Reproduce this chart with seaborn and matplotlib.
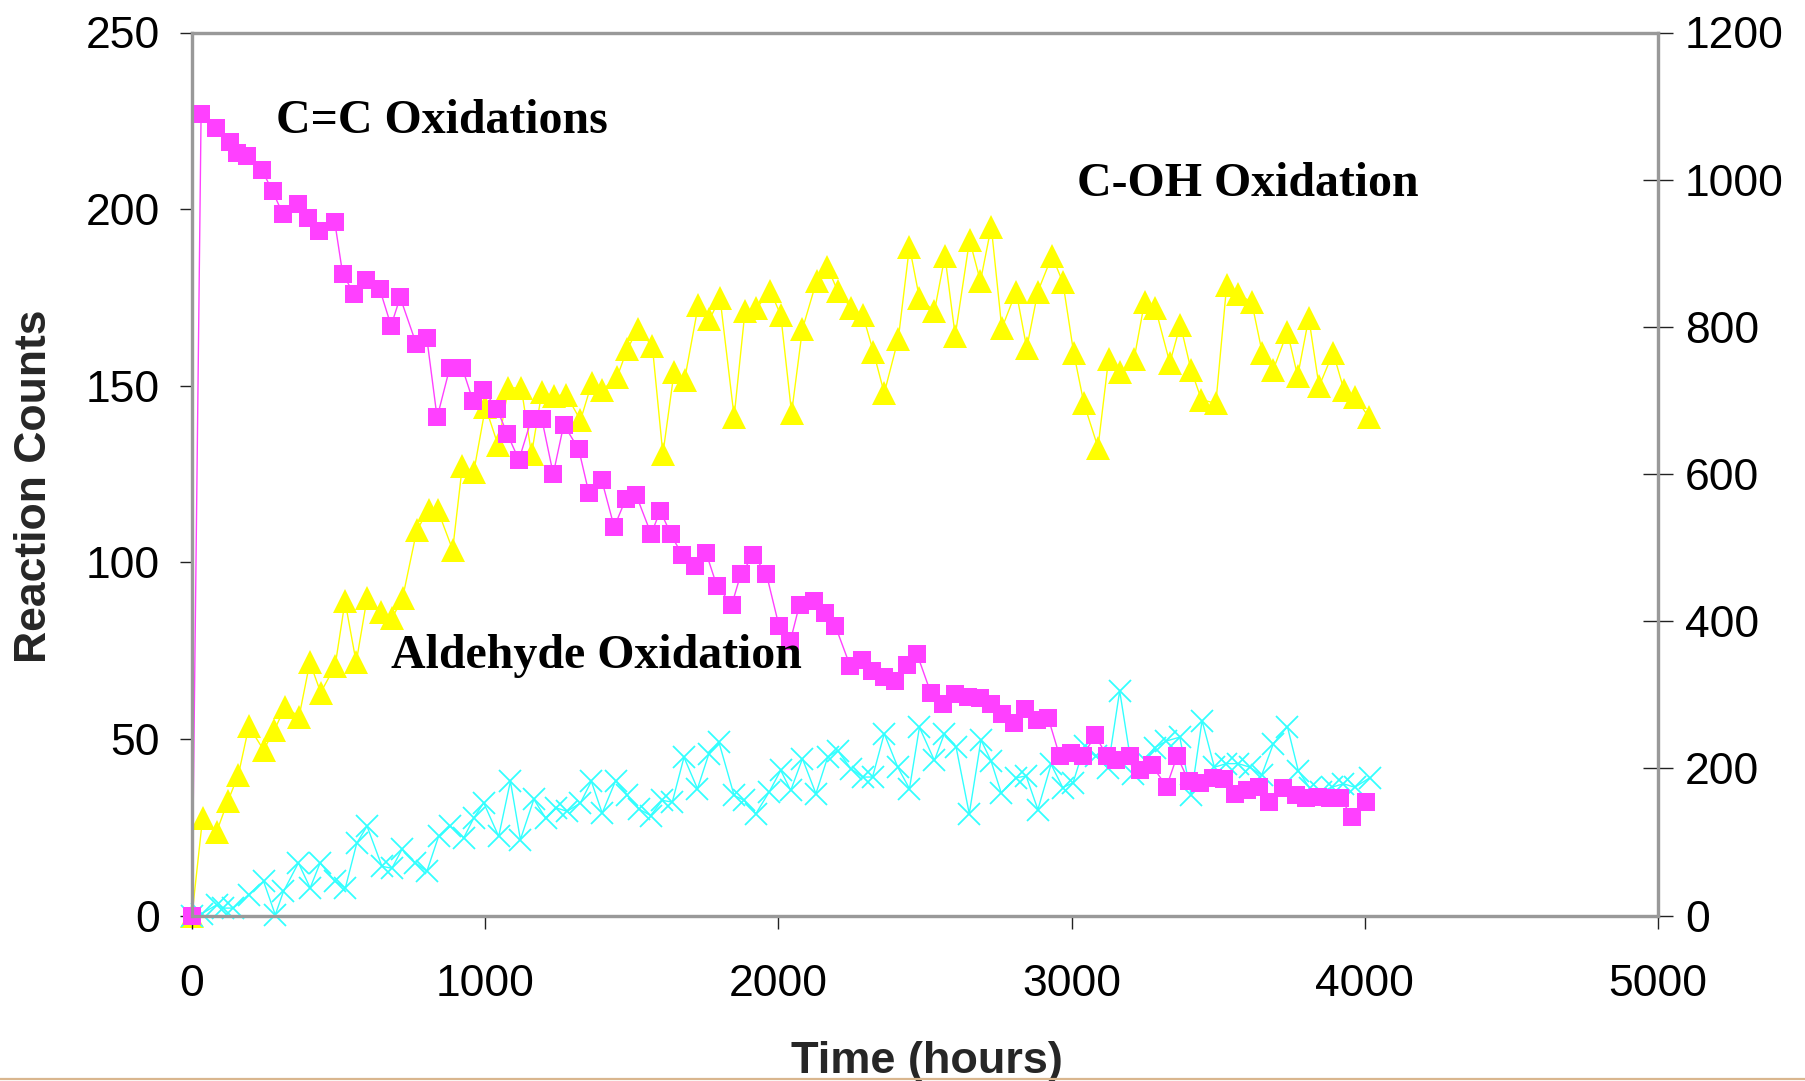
import matplotlib
matplotlib.use("Agg")
import matplotlib.pyplot as plt
from matplotlib.lines import Line2D
import seaborn as sns

# ---- data ----
cc_t = [0, 31, 82, 130, 153, 188, 239, 275, 310, 361, 396, 432, 487, 514, 553, 593, 640, 679, 710, 765,
        801, 836, 879, 922, 958, 993, 1040, 1075, 1115, 1158, 1193, 1232, 1268, 1319, 1354, 1397, 1440,
        1480, 1515, 1566, 1597, 1633, 1672, 1715, 1754, 1790, 1841, 1872, 1915, 1959, 2002, 2041, 2072,
        2120, 2159, 2194, 2245, 2284, 2320, 2359, 2398, 2437, 2473, 2520, 2563, 2602, 2645, 2689, 2724,
        2763, 2802, 2842, 2881, 2920, 2959, 2999, 3038, 3081, 3120, 3152, 3199, 3234, 3273, 3324, 3360,
        3399, 3438, 3481, 3520, 3556, 3599, 3638, 3674, 3721, 3764, 3799, 3839, 3882, 3917, 3956, 4004]
cc_v = [0, 227, 223, 219, 216, 215, 211, 205, 198.6, 201.5, 197.6, 193.7, 196.3, 181.6, 176, 180, 177.4,
        167, 175, 161.8, 163.4, 141, 155, 155, 145.8, 148.8, 143.5, 136.4, 129, 140.6, 140.6, 125, 139,
        132, 119.5, 123.4, 110, 118, 119, 108, 114.6, 108, 102, 99, 102.5, 93.4, 88, 96.7, 102, 96.7, 82,
        77.8, 88, 89, 85.6, 82, 70.6, 72.3, 69.3, 67.4, 66.4, 71, 74, 63, 60, 62.8, 61.8, 61.5, 60, 57,
        54.4, 58.6, 55.3, 56, 45.2, 45.9, 45.2, 51, 45.2, 44, 45.2, 41.3, 42.6, 36.5, 45.2, 38, 37.4, 39,
        38.7, 34.5, 35.5, 36.5, 32, 36, 34, 33.2, 33.5, 33.2, 33.2, 28, 32]

coh_t = [0, 36, 84, 122, 158, 194, 244, 281, 318, 365, 402, 439, 488, 522, 560, 597, 645, 682, 718, 767,
         807, 838, 889, 922, 961, 1001, 1044, 1079, 1123, 1158, 1193, 1236, 1276, 1325, 1363, 1399, 1450,
         1485, 1521, 1570, 1606, 1644, 1680, 1727, 1765, 1801, 1849, 1886, 1925, 1972, 2008, 2045, 2082,
         2130, 2167, 2202, 2249, 2288, 2324, 2361, 2409, 2447, 2481, 2532, 2568, 2603, 2652, 2689, 2726,
         2762, 2811, 2847, 2885, 2933, 2970, 3007, 3042, 3090, 3126, 3164, 3213, 3249, 3286, 3335, 3371,
         3407, 3443, 3492, 3529, 3566, 3614, 3650, 3688, 3736, 3771, 3809, 3844, 3892, 3929, 3966, 4014]
coh_v = [0, 132, 114, 155, 191, 257, 225, 252, 284, 270, 344, 303, 339, 427, 344, 431, 413, 404, 431, 524,
         551, 551, 497, 611, 603, 691, 639, 717, 717, 627, 711, 706, 708, 673, 723, 714, 732, 770, 797,
         774, 627, 738, 728, 830, 810, 839, 678, 821, 825, 849, 816, 683, 797, 862, 881, 849, 825, 816,
         766, 710, 784, 909, 839, 821, 896, 788, 918, 862, 936, 798, 848, 771, 848, 896, 861, 765, 696,
         636, 756, 738, 756, 834, 825, 751, 803, 742, 701, 696, 857, 844, 834, 765, 742, 793, 733, 812,
         719, 765, 714, 705, 677]

ald_t = [0, 33, 84, 107, 141, 193, 244, 284, 312, 363, 403, 437, 488, 523, 562, 597, 648, 682, 716, 762,
         801, 841, 881, 927, 961, 995, 1046, 1086, 1120, 1166, 1206, 1240, 1280, 1325, 1362, 1399, 1445,
         1485, 1524, 1564, 1604, 1638, 1678, 1724, 1763, 1797, 1849, 1883, 1923, 1968, 2008, 2042, 2082,
         2128, 2168, 2202, 2247, 2287, 2321, 2361, 2407, 2447, 2481, 2532, 2566, 2606, 2651, 2691, 2725,
         2760, 2811, 2845, 2885, 2930, 2970, 3005, 3044, 3084, 3124, 3164, 3209, 3250, 3283, 3323, 3369,
         3408, 3445, 3487, 3528, 3568, 3608, 3648, 3688, 3736, 3773, 3813, 3850, 3887, 3927, 3966, 4017]
ald_v = [0, 0.5, 3.0, 2.1, 2.1, 5.9, 9.7, 0.2, 6.8, 14.9, 7.8, 14.9, 9.7, 7.8, 20.5, 25.3, 13.9, 13.4,
         18.7, 14.9, 12.5, 22.4, 25.3, 22, 27.6, 31.9, 22.4, 38, 21.5, 32.9, 27.6, 30.5, 29.5, 31.9, 38,
         29, 38.2, 34, 30.2, 28.3, 32.6, 32.1, 44.8, 35.9, 45.8, 49.1, 34, 32.6, 28.8, 34.9, 41.1, 35.4,
         44.4, 34.5, 44.8, 46.7, 41.6, 39.2, 39.2, 51.5, 42, 35.9, 53.3, 43.9, 51.5, 47.7, 28.8, 49.7,
         43.8, 34.7, 39, 39.5, 30, 42.8, 36.2, 37.6, 48, 45.2, 41.8, 63.6, 40, 44, 47.5, 49.4, 50.5, 34,
         55.2, 42, 43, 43, 42, 39.7, 48.6, 53.5, 41, 36, 35, 36.3, 37.3, 36.3, 39]

x_ticks = [0, 1000, 2000, 3000, 4000, 5000]
left_ticks = [0, 50, 100, 150, 200, 250]
right_ticks = [0, 200, 400, 600, 800, 1000, 1200]

MAGENTA = "#FF40FF"
YELLOW = "#FFFF00"
CYAN = "#33FFFF"
SPINE = "#999999"

sns.set_style("white")
plt.rcParams["font.family"] = ["Liberation Sans", "DejaVu Sans"]

fig = plt.figure(figsize=(18.05, 10.81), dpi=100)
fig.patch.set_facecolor("white")
ax = fig.add_axes([192 / 1805, 1 - 915.5 / 1081, (1658 - 192) / 1805, (915.5 - 32.5) / 1081])
ax2 = ax.twinx()
ax.set_zorder(ax2.get_zorder() + 1)
ax.patch.set_visible(False)

# C-OH on the right axis
sns.lineplot(x=coh_t, y=coh_v, ax=ax2, color=YELLOW, linewidth=1.0, marker="^", markersize=17,
             markeredgewidth=0, markeredgecolor=YELLOW, estimator=None, sort=False, clip_on=False)
# Aldehyde and C=C on the left axis
sns.lineplot(x=ald_t, y=ald_v, ax=ax, color=CYAN, linewidth=1.0, marker="x", markersize=16.5,
             markeredgewidth=1.3, markeredgecolor=CYAN, estimator=None, sort=False, clip_on=False)
sns.lineplot(x=cc_t, y=cc_v, ax=ax, color=MAGENTA, linewidth=1.0, marker="s", markersize=13.5,
             markeredgewidth=0, markeredgecolor=MAGENTA, estimator=None, sort=False, clip_on=False)

ax.set_xlim(0, 5000)
ax.set_ylim(0, 250)
ax2.set_ylim(0, 1200)
ax.set_xticks(x_ticks)
ax.set_xticklabels([str(v) for v in x_ticks])
ax.set_yticks(left_ticks)
ax.set_yticklabels([str(v) for v in left_ticks])
ax2.set_yticks(right_ticks)
ax2.set_yticklabels([str(v) for v in right_ticks])
ax.set_xlabel("")
ax.set_ylabel("")
ax2.set_ylabel("")

for a in (ax, ax2):
    for s in a.spines.values():
        s.set_visible(True)
        s.set_color(SPINE)
        s.set_linewidth(2.3)
    a.grid(False)

ax.tick_params(axis="y", which="both", left=True, right=False, direction="out", length=9,
               width=1, color="#222222", labelsize=32, pad=14, labelcolor="black")
ax.tick_params(axis="x", which="both", bottom=True, top=False, direction="out", length=9,
               width=1, color="#222222", labelsize=32, pad=26, labelcolor="black")
ax2.tick_params(axis="y", which="both", left=False, right=True, direction="inout", length=21,
                width=1, color="#222222", labelsize=32, pad=9, labelcolor="black")

serif = ["Liberation Serif", "DejaVu Serif"]
ax.text(287, 225, "C=C Oxidations", family=serif, fontweight="bold", fontsize=34.5,
        ha="left", va="center", color="black")
ax.text(3019, 207, "C-OH Oxidation", family=serif, fontweight="bold", fontsize=34.5,
        ha="left", va="center", color="black")
ax.text(680, 73.4, "Aldehyde Oxidation", family=serif, fontweight="bold", fontsize=34.5,
        ha="left", va="center", color="black")

fig.text(34.5 / 1805, 1 - 486 / 1081, "Reaction Counts", rotation=90, fontsize=32,
         fontweight="bold", ha="center", va="center")
fig.text(927 / 1805, 1 - 1061 / 1081, "Time (hours)", fontsize=32.5, fontweight="bold",
         ha="center", va="center")

fig.add_artist(Line2D([0, 1], [1 - 1078.5 / 1081] * 2, transform=fig.transFigure,
                      color="#D9B68E", linewidth=1.6, zorder=10))

fig.savefig("out.png", dpi=100, facecolor="white")
